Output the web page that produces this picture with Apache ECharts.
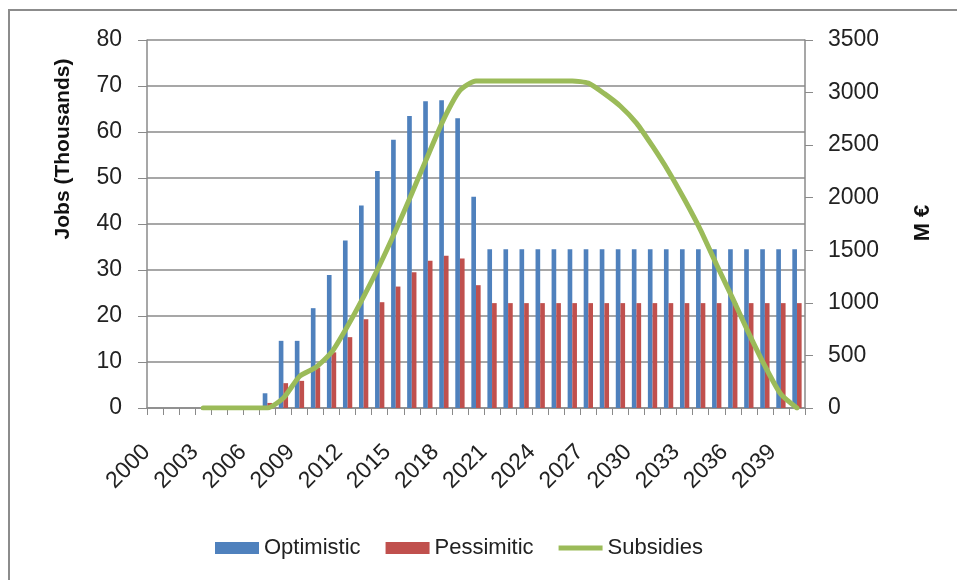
<!DOCTYPE html>
<html>
<head>
<meta charset="utf-8">
<script src="https://cdn.jsdelivr.net/npm/echarts@6/dist/echarts.min.js"></script>
<style>
  html, body { margin: 0; padding: 0; background: #fff; }
  #chart { width: 957px; height: 580px; }
</style>
</head>
<body>
<div id="chart"></div>
<script>
// Years on the category axis
const years = [];
for (let y = 2000; y <= 2040; y++) years.push(String(y));

// Jobs created, thousands (left axis)
const optimistic = [
  0, 0, 0, 0, 0, 0, 0, 3.2, 14.6, 14.6,
  21.7, 28.9, 36.4, 44.0, 51.5, 58.3, 63.5, 66.7, 66.9, 63.0,
  45.9, 34.5, 34.5, 34.5, 34.5, 34.5, 34.5, 34.5, 34.5, 34.5,
  34.5, 34.5, 34.5, 34.5, 34.5, 34.5, 34.5, 34.5, 34.5, 34.5,
  34.5
];
const pessimistic = [
  0, 0, 0, 0, 0, 0, 0, 1.1, 5.4, 5.9,
  8.8, 12.1, 15.4, 19.3, 23.0, 26.4, 29.5, 32.0, 33.1, 32.5,
  26.7, 22.8, 22.8, 22.8, 22.8, 22.8, 22.8, 22.8, 22.8, 22.8,
  22.8, 22.8, 22.8, 22.8, 22.8, 22.8, 22.8, 22.8, 22.8, 22.8,
  22.8
];

// Subsidies, million euro (right axis)
const subsidies = [
  null, null, null, 0, 0, 0, 0, 0, 95, 300,
  385, 530, 780, 1060, 1360, 1690, 2040, 2400, 2750, 3020,
  3110, 3110, 3110, 3110, 3110, 3110, 3110, 3090, 2990, 2870,
  2710, 2490, 2250, 1980, 1690, 1360, 1040, 710, 400, 130,
  0
];

const FONT = '"Liberation Sans", Arial, sans-serif';
const GRID_COLOR = '#8a8a8a';
const GREEN = '#9BBB59';

const chart = echarts.init(document.getElementById('chart'), null, { renderer: 'canvas' });

chart.setOption({
  backgroundColor: '#ffffff',
  animation: false,
  textStyle: { fontFamily: FONT },
  grid: { left: 147, right: 152, top: 40, bottom: 172, containLabel: false },
  legend: {
    left: 215,
    top: 537,
    padding: 0,
    itemWidth: 44,
    itemHeight: 12,
    itemGap: 25,
    textStyle: { fontFamily: FONT, fontSize: 22, color: '#222' },
    data: [
      { name: 'Optimistic', icon: 'rect' },
      { name: 'Pessimitic', icon: 'rect' },
      { name: 'Subsidies', icon: 'path://M0,0 H44 V5 H0 Z', itemStyle: { color: GREEN } }
    ]
  },
  graphic: [
    {
      type: 'rect',
      shape: { x: 9, y: 10, width: 1000, height: 700 },
      style: { fill: 'none', stroke: '#8c8c8c', lineWidth: 2 },
      silent: true
    },
    {
      type: 'text',
      x: 63, y: 149,
      rotation: Math.PI / 2,
      style: {
        text: 'Jobs (Thousands)',
        font: 'bold 21px ' + FONT,
        fill: '#111',
        align: 'center',
        verticalAlign: 'middle'
      }
    },
    {
      type: 'text',
      x: 923, y: 223,
      rotation: Math.PI / 2,
      style: {
        text: 'M €',
        font: 'bold 22px ' + FONT,
        fill: '#111',
        align: 'center',
        verticalAlign: 'middle'
      }
    }
  ],
  xAxis: {
    type: 'category',
    data: years,
    boundaryGap: true,
    axisLine: { lineStyle: { color: GRID_COLOR, width: 1.5 } },
    axisTick: { show: true, interval: 0, length: 7, lineStyle: { color: GRID_COLOR } },
    axisLabel: {
      interval: 2,
      rotate: 45,
      margin: 32,
      padding: [0, 12, 0, 0],
      fontSize: 23,
      color: '#222',
      fontFamily: FONT
    }
  },
  yAxis: [
    {
      type: 'value',
      min: 0, max: 80, interval: 10,
      axisLine: { show: true, lineStyle: { color: GRID_COLOR, width: 1.5 } },
      axisTick: { show: true, length: 9, lineStyle: { color: GRID_COLOR } },
      axisLabel: { fontSize: 23, color: '#222', margin: 25, fontFamily: FONT },
      splitLine: { show: true, lineStyle: { color: GRID_COLOR, width: 1.5 } }
    },
    {
      type: 'value',
      min: 0, max: 3500, interval: 500,
      position: 'right',
      axisLine: { show: true, lineStyle: { color: GRID_COLOR, width: 1.5 } },
      axisTick: { show: true, length: 8, lineStyle: { color: GRID_COLOR } },
      axisLabel: {
        fontSize: 23, color: '#222', margin: 23, fontFamily: FONT,
        formatter: (v) => String(v)
      },
      splitLine: { show: false }
    }
  ],
  series: [
    {
      name: 'Optimistic',
      type: 'bar',
      yAxisIndex: 0,
      data: optimistic,
      barWidth: '29%',
      barGap: '0%',
      itemStyle: { color: '#4F81BD' }
    },
    {
      name: 'Pessimitic',
      type: 'bar',
      yAxisIndex: 0,
      data: pessimistic,
      barWidth: '29%',
      barGap: '0%',
      itemStyle: { color: '#C0504D' }
    },
    {
      name: 'Subsidies',
      type: 'line',
      yAxisIndex: 1,
      data: subsidies,
      symbol: 'none',
      smooth: 0.2,
      connectNulls: false,
      lineStyle: { color: GREEN, width: 5, cap: 'round', join: 'round' },
      itemStyle: { color: GREEN },
      z: 3
    }
  ]
});
</script>
</body>
</html>
